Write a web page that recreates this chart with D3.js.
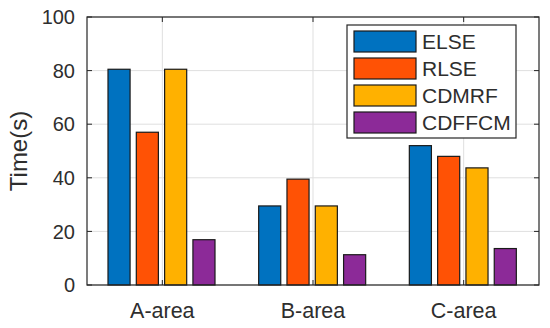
<!DOCTYPE html>
<html>
<head>
<meta charset="utf-8">
<script src="https://cdn.jsdelivr.net/npm/d3@7"></script>
<style>
  body { margin: 0; background: #fff; }
  text { font-family: "Liberation Sans", Arial, sans-serif; fill: #2e2e2e; }
</style>
</head>
<body>
<div id="chart"></div>
<script>
const categories = ['A-area', 'B-area', 'C-area']
const methods = ['ELSE', 'RLSE', 'CDMRF', 'CDFFCM']
const elseVals = [80.5, 29.5, 52]
const rlseVals = [57, 39.5, 48]
const cdmrfVals = [80.5, 29.5, 43.7]
const cdffcmVals = [16.9, 11.3, 13.6]
const yTicks = [0, 20, 40, 60, 80, 100]
const colors = ['#0072c0', '#ff5205', '#ffb100', '#8c2a98']

const series = [elseVals, rlseVals, cdmrfVals, cdffcmVals]

const width = 550, height = 328
const axL = 87, axR = 539, axT = 17, axB = 285

const svg = d3.select('#chart').append('svg')
  .attr('width', width)
  .attr('height', height)

const x0 = d3.scaleBand().domain(categories).range([axL, axR])
const x1 = d3.scaleBand().domain(methods)
  .range([21, 128]).paddingInner(0.22).paddingOuter(0)
const y = d3.scaleLinear().domain([0, 100]).range([axB, axT])

// grid
const grid = svg.append('g')
yTicks.forEach(t => {
  grid.append('line')
    .attr('x1', axL).attr('x2', axR)
    .attr('y1', y(t)).attr('y2', y(t))
    .attr('stroke', '#dfdfdf').attr('stroke-width', 1)
})
categories.forEach(c => {
  const cx = x0(c) + x0.bandwidth() / 2
  grid.append('line')
    .attr('x1', cx).attr('x2', cx)
    .attr('y1', axT).attr('y2', axB)
    .attr('stroke', '#dfdfdf').attr('stroke-width', 1)
})

// bars
categories.forEach((c, i) => {
  methods.forEach((m, j) => {
    svg.append('rect')
      .attr('x', x0(c) + x1(m))
      .attr('y', y(series[j][i]))
      .attr('width', x1.bandwidth())
      .attr('height', y(0) - y(series[j][i]))
      .attr('fill', colors[j])
      .attr('stroke', '#1a1a1a')
      .attr('stroke-width', 1.2)
  })
})

// box
svg.append('rect')
  .attr('x', axL).attr('y', axT)
  .attr('width', axR - axL).attr('height', axB - axT)
  .attr('fill', 'none').attr('stroke', '#262626').attr('stroke-width', 1.2)

// ticks inward
const tickLen = 5
yTicks.forEach(t => {
  svg.append('line').attr('x1', axL).attr('x2', axL + tickLen)
    .attr('y1', y(t)).attr('y2', y(t)).attr('stroke', '#262626')
  svg.append('line').attr('x1', axR).attr('x2', axR - tickLen)
    .attr('y1', y(t)).attr('y2', y(t)).attr('stroke', '#262626')
  svg.append('text')
    .attr('x', axL - 12).attr('y', y(t))
    .attr('dy', '0.36em')
    .attr('text-anchor', 'end')
    .attr('font-size', 20)
    .text(t)
})
categories.forEach(c => {
  const cx = x0(c) + x0.bandwidth() / 2
  svg.append('line').attr('x1', cx).attr('x2', cx)
    .attr('y1', axB).attr('y2', axB - tickLen).attr('stroke', '#262626')
  svg.append('line').attr('x1', cx).attr('x2', cx)
    .attr('y1', axT).attr('y2', axT + tickLen).attr('stroke', '#262626')
  svg.append('text')
    .attr('x', cx).attr('y', 318)
    .attr('text-anchor', 'middle')
    .attr('font-size', 21.5)
    .text(c)
})

// y label
svg.append('text')
  .attr('transform', 'translate(27,' + (axT + axB) / 2 + ') rotate(-90)')
  .attr('text-anchor', 'middle')
  .attr('font-size', 24)
  .text('Time(s)')

// legend
const lg = svg.append('g').attr('transform', 'translate(347,25)')
lg.append('rect')
  .attr('width', 169).attr('height', 113)
  .attr('fill', '#fff').attr('stroke', '#262626').attr('stroke-width', 1.2)
methods.forEach((m, j) => {
  lg.append('rect')
    .attr('x', 7).attr('y', 6 + j * 27)
    .attr('width', 62).attr('height', 21)
    .attr('fill', colors[j]).attr('stroke', '#1a1a1a').attr('stroke-width', 1.2)
  lg.append('text')
    .attr('x', 75).attr('y', 6 + j * 27 + 10.5)
    .attr('dy', '0.36em')
    .attr('font-size', 21)
    .text(m)
})
</script>
</body>
</html>
